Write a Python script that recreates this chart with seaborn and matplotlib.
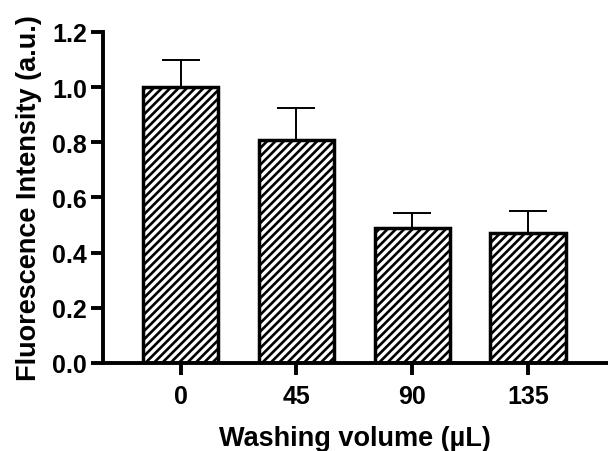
import matplotlib
matplotlib.use("Agg")
import seaborn as sns
import matplotlib.pyplot as plt

volumes = ["0", "45", "90", "135"]
intensity = [1.00, 0.81, 0.49, 0.47]
errors = [0.10, 0.115, 0.055, 0.08]

sns.set_style("ticks")
plt.rcParams["font.family"] = ["Liberation Sans", "DejaVu Sans"]
plt.rcParams["font.weight"] = "bold"
plt.rcParams["text.color"] = "black"
plt.rcParams["axes.labelcolor"] = "black"
plt.rcParams["xtick.color"] = "black"
plt.rcParams["ytick.color"] = "black"
plt.rcParams["axes.edgecolor"] = "black"
plt.rcParams["hatch.linewidth"] = 1.9
plt.rcParams["hatch.color"] = "black"

fig = plt.figure(figsize=(6.08, 4.52), dpi=100)
ax = fig.add_axes([0.169, 0.195, 0.829, 0.732])

sns.barplot(x=volumes, y=intensity, order=volumes, color="white",
            edgecolor="black", linewidth=2.5, width=0.65, ax=ax)
for p in ax.patches:
    p.set_hatch("////")

ax.errorbar(range(len(volumes)), intensity,
            yerr=[[0] * len(errors), errors],
            fmt="none", ecolor="black", elinewidth=1.4,
            capsize=14, capthick=1.4, zorder=1)

ax.set_ylim(0, 1.2)
ax.set_yticks([0.0, 0.2, 0.4, 0.6, 0.8, 1.0, 1.2])
ax.set_yticklabels(["0.0", "0.2", "0.4", "0.6", "0.8", "1.0", "1.2"])
ax.set_xlim(-0.672, 3.68)

for s in ["top", "right"]:
    ax.spines[s].set_visible(False)
for s in ["left", "bottom"]:
    ax.spines[s].set_linewidth(2.8)

ax.tick_params(axis="both", width=2.8, length=8.5, labelsize=18, pad=3)
ax.tick_params(axis="x", pad=7)
ax.set_xlabel("Washing volume (µL)", fontsize=19.5, fontweight="bold", labelpad=12)
ax.set_ylabel("Fluorescence Intensity (a.u.)", fontsize=19.5, fontweight="bold", labelpad=7)

fig.savefig("out.png", dpi=100)
